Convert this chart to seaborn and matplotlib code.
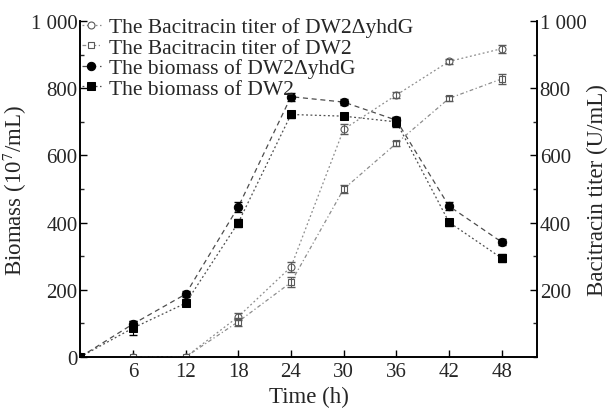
import numpy as np
import pandas as pd
import matplotlib
matplotlib.use("Agg")
import matplotlib.pyplot as plt
import seaborn as sns
from matplotlib.ticker import FixedLocator, MultipleLocator, FuncFormatter

# Sampling times (h)
time_bio = [0, 6, 12, 18, 24, 30, 36, 42, 48]
time_bac = [6, 12, 18, 24, 30, 36, 42, 48]

# Biomass (10^7/mL)
bio_mut = [0, 98, 187, 447, 775, 759, 705, 449, 342]
bio_mut_err = [0, 8, 10, 15, 12, 8, 10, 12, 10]
bio_wt = [0, 86, 160, 400, 722, 717, 700, 401, 294]
bio_wt_err = [0, 20, 8, 12, 10, 8, 15, 10, 12]

# Bacitracin titer (U/mL)
bac_mut = [0, 0, 120, 268, 678, 780, 880, 918]
bac_mut_err = [0, 0, 10, 15, 15, 10, 8, 12]
bac_wt = [0, 0, 105, 222, 500, 636, 770, 828]
bac_wt_err = [0, 0, 12, 15, 12, 8, 8, 15]

labels = [
    "The Bacitracin titer of DW2\u0394yhdG",
    "The Bacitracin titer of DW2",
    "The biomass of DW2\u0394yhdG",
    "The biomass of DW2",
]

sns.set_theme(style="ticks")
plt.rcParams["font.family"] = ["Liberation Serif", "DejaVu Serif"]
plt.rcParams["mathtext.fontset"] = "stix"
FS = 15       # tick labels
FS_LAB = 16.5 # axis titles
FS_LEG = 15.5 # legend

fig = plt.figure(figsize=(6.08, 4.10), dpi=100)
ax = fig.add_axes([0.132, 0.127, 0.751, 0.819])
ax2 = ax.twinx()

line_kw = dict(linewidth=0.9, errorbar=None)

# Bacitracin titer on the right axis
sns.lineplot(x=time_bac, y=bac_mut, ax=ax2, color="0.55", linestyle=(0, (1.5, 2)),
             marker="o", markersize=5, markerfacecolor="white",
             markeredgecolor="0.35", markeredgewidth=0.8, label=labels[0], **line_kw)
sns.lineplot(x=time_bac, y=bac_wt, ax=ax2, color="0.55", linestyle=(0, (3, 2, 1, 2)),
             marker="s", markersize=5, markerfacecolor="white",
             markeredgecolor="0.35", markeredgewidth=0.8, label=labels[1], **line_kw)
ax2.errorbar(time_bac, bac_mut, yerr=bac_mut_err, fmt="none", ecolor="0.35",
             elinewidth=0.8, capsize=3)
ax2.errorbar(time_bac, bac_wt, yerr=bac_wt_err, fmt="none", ecolor="0.35",
             elinewidth=0.8, capsize=3)

# Biomass on the left axis
sns.lineplot(x=time_bio, y=bio_mut, ax=ax, color="0.3", linestyle=(0, (4, 3)),
             marker="o", markersize=6, markerfacecolor="black",
             markeredgecolor="black", label=labels[2], **line_kw)
sns.lineplot(x=time_bio, y=bio_wt, ax=ax, color="0.3", linestyle=(0, (1.5, 2)),
             marker="s", markersize=6, markerfacecolor="black",
             markeredgecolor="black", label=labels[3], **line_kw)
ax.errorbar(time_bio, bio_mut, yerr=bio_mut_err, fmt="none", ecolor="black",
            elinewidth=0.8, capsize=3)
ax.errorbar(time_bio, bio_wt, yerr=bio_wt_err, fmt="none", ecolor="black",
            elinewidth=0.8, capsize=3)

for a in (ax, ax2):
    a.set_xlim(0, 52)
    a.set_ylim(0, 1000)
    a.yaxis.set_major_locator(MultipleLocator(200))
    a.yaxis.set_minor_locator(MultipleLocator(100))
    a.tick_params(axis="both", which="major", direction="in", length=5,
                  width=1, labelsize=FS, pad=2, color="black")
    a.tick_params(axis="y", which="minor", direction="in", length=3, width=1)
    a.spines["top"].set_visible(False)
    for s in ("left", "right", "bottom"):
        a.spines[s].set_color("black")
        a.spines[s].set_linewidth(1.2)
    a.grid(False)


def thousands(v, pos):
    v = int(round(v))
    return "1 000" if v == 1000 else str(v)


ax.yaxis.set_major_formatter(FuncFormatter(thousands))
ax2.yaxis.set_major_locator(FixedLocator([200, 400, 600, 800, 1000]))
ax2.yaxis.set_major_formatter(FuncFormatter(thousands))
ax.xaxis.set_major_locator(FixedLocator([6, 12, 18, 24, 30, 36, 42, 48]))
ax.tick_params(axis="x", which="major", direction="in", length=5, pad=4)

ax.set_xlabel("Time (h)", fontsize=FS_LAB, labelpad=3)
ax.set_ylabel("Biomass (10$^7$/mL)", fontsize=FS_LAB, labelpad=1)
ax2.set_ylabel("Bacitracin titer (U/mL)", fontsize=FS_LAB, labelpad=0)

for a in (ax, ax2):
    lg = a.get_legend()
    if lg is not None:
        lg.remove()

h2, l2 = ax2.get_legend_handles_labels()
h1, l1 = ax.get_legend_handles_labels()
leg = ax2.legend(h2 + h1, l2 + l1, loc="upper left", bbox_to_anchor=(-0.025, 1.05),
                 frameon=False, fontsize=FS_LEG, handlelength=0.9, handletextpad=0.35,
                 labelspacing=0.02, borderaxespad=0.2)

fig.savefig("out.png", dpi=100)
